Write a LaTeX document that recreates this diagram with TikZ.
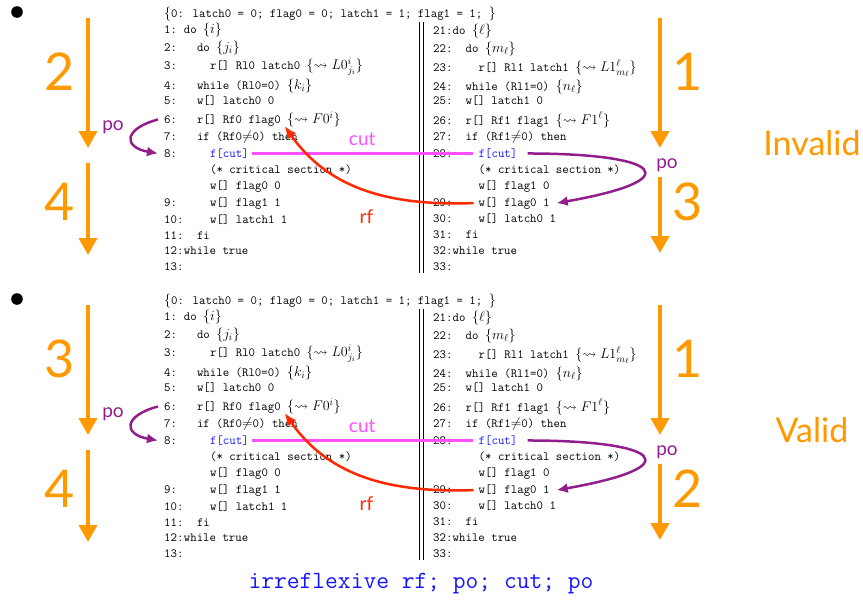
\RequirePackage{fix-cm}
\documentclass[tikz,border=0pt]{standalone}
\usepackage{amssymb}
\usepackage{fontspec}
\setsansfont{Lato}
\usetikzlibrary{arrows.meta}
\DeclareMathSizes{12.5}{14}{10}{7.5}
\definecolor{StepOrange}{HTML}{FF9900}
\definecolor{PoPurple}{HTML}{911E8C}
\definecolor{RfRed}{HTML}{FF2800}
\definecolor{CutPink}{HTML}{FF50FF}
\definecolor{CodeBlue}{HTML}{1414FF}

\begin{document}
\begin{tikzpicture}[x=1pt, y=-1pt,
  code/.style={anchor=base west, inner sep=0pt, font=\fontsize{12.5}{15}\selectfont\ttfamily},
  numlab/.style={text=StepOrange, font=\sffamily\fontsize{52}{52}\selectfont},
  rellab/.style={font=\sffamily\fontsize{19}{19}\selectfont},
  verdict/.style={text=StepOrange, font=\sffamily\fontsize{34}{34}\selectfont},
  steparrow/.style={StepOrange, line width=4pt, -{Triangle[width=18pt,length=17pt]}},
  poarrow/.style={PoPurple, line width=2.5pt, -{Latex[length=11pt,width=10pt]}},
  rfarrow/.style={RfRed, line width=2.5pt, -{Latex[length=12pt,width=11pt]}},
  cutline/.style={CutPink, line width=2.5pt}]
\useasboundingbox (0,0) rectangle (863,600);

\foreach \pnl/\dy/\na/\nb/\nc/\nd/\res in {T/0/2/4/1/3/Invalid, B/287/3/4/1/2/Valid}{
\begin{scope}[yshift=-\dy pt, name prefix=\pnl-]
  \fill (17,12) circle (5.8pt);
  \node[code] (init) at (164,17.5) {$\{$0: latch0 = 0; flag0 = 0; latch1 = 1; flag1 = 1; $\}$};
  % thread 0
  \foreach \id/\lab/\col/\y/\txt in {
    1/1:/3/33.5/{do $\{i\}$},
    2/2:/5/51/{do $\{j_i\}$},
    3/3:/7/69.3/{r[] Rl0 latch0 $\{\leadsto L0^i_{j_i}\}$},
    4/4:/5/89.3/{while (Rl0=0) $\{k_i\}$},
    5/5:/5/104.7/{w[] latch0 0},
    6/6:/5/123.3/{r[] Rf0 flag0 $\{\leadsto F0^i\}$},
    7/7:/5/140.5/{if (Rf0$\neq$0) then},
    8/8:/7/157.3/{\color{CodeBlue}f[cut]},
    8a//7/173.3/{(* critical section *)},
    8b//7/189.7/{w[] flag0 0},
    9/9:/7/206.5/{w[] flag1 1},
    10/10:/7/223.3/{w[] latch1 1},
    11/11:/5/239.5/{fi},
    12/12:/3/254.7/{while true},
    13/13:/3/270.7/{}}{
    \node[code] (ln\id) at (164,\y) {\lab};
    \node[code] (L\id) at (164+\col*6.56,\y) {\txt};
  }
  % thread 1
  \foreach \id/\lab/\col/\y/\txt in {
    21/21:/3/34/{do $\{\ell\}$},
    22/22:/5/52.3/{do $\{m_\ell\}$},
    23/23:/7/71.7/{r[] Rl1 latch1 $\{\leadsto L1^\ell_{m_\ell}\}$},
    24/24:/5/90/{while (Rl1=0) $\{n_\ell\}$},
    25/25:/5/104.7/{w[] latch1 0},
    26/26:/5/124/{r[] Rf1 flag1 $\{\leadsto F1^\ell\}$},
    27/27:/5/140.5/{if (Rf1$\neq$0) then},
    28/28:/7/157.3/{\color{CodeBlue}f[cut]},
    28a//7/173.3/{(* critical section *)},
    28b//7/189.7/{w[] flag1 0},
    29/29:/7/206/{w[] flag0 1},
    30/30:/7/222.5/{w[] latch0 1},
    31/31:/5/238.5/{fi},
    32/32:/3/254.7/{while true},
    33/33:/3/270.7/{}}{
    \node[code] (rn\id) at (433,\y) {\lab};
    \node[code] (R\id) at (433+\col*6.5,\y) {\txt};
  }
  \draw[line width=0.6pt] (419.5,22) -- (419.5,273) (423,22) -- (423,273);

  % step arrows
  \coordinate (sL1) at (88,18);  \coordinate (eL1) at (88,148);
  \coordinate (sL2) at (88,163); \coordinate (eL2) at (88,255);
  \coordinate (sR1) at (660,18); \coordinate (eR1) at (660,148);
  \coordinate (sR2) at (660,177); \coordinate (eR2) at (660,253);
  \draw[steparrow] (sL1) -- (eL1);
  \draw[steparrow] (sL2) -- (eL2);
  \draw[steparrow] (sR1) -- (eR1);
  \draw[steparrow] (sR2) -- (eR2);
  \node[numlab] (kL1) at (60,72) {\na};
  \node[numlab] (kL2) at (60,202) {\nb};
  \node[numlab] (kR1) at (688,72) {\nc};
  \node[numlab] (kR2) at (688,202) {\nd};
  \node[verdict] (res) at (812,143) {\res};

  % relations
  \coordinate (f0) at ([shift={(88pt,-3pt)}]L6.base west);
  \draw[cutline] ([xshift=3pt]L8.east) -- ([xshift=-6pt]R28.west)
    node[midway, above=3pt, rellab, text=CutPink] (cutlab) {cut};
  \draw[rfarrow] ([xshift=-5pt]R29.west) to[out=182, in=-55]
    node[pos=0.5, below=15pt, rellab, text=RfRed] (rflab) {rf} (f0);
  \draw[poarrow] ([xshift=-6pt]ln6.west) to[out=195, in=170, looseness=2.7] ([xshift=-6pt]ln8.west);
  \draw[poarrow] ([xshift=10pt]R28.east) to[out=0, in=10, looseness=6] ([xshift=7pt]R29.east);
  \node[rellab, text=PoPurple] (poL) at (113,127) {po};
  \node[rellab, text=PoPurple] (poR) at (667,165) {po};
\end{scope}
}

\node[font=\fontsize{24.8}{26}\selectfont\ttfamily, text=CodeBlue] (axiom) at (421,584) {irreflexive rf; po; cut; po};
\end{tikzpicture}
\end{document}
